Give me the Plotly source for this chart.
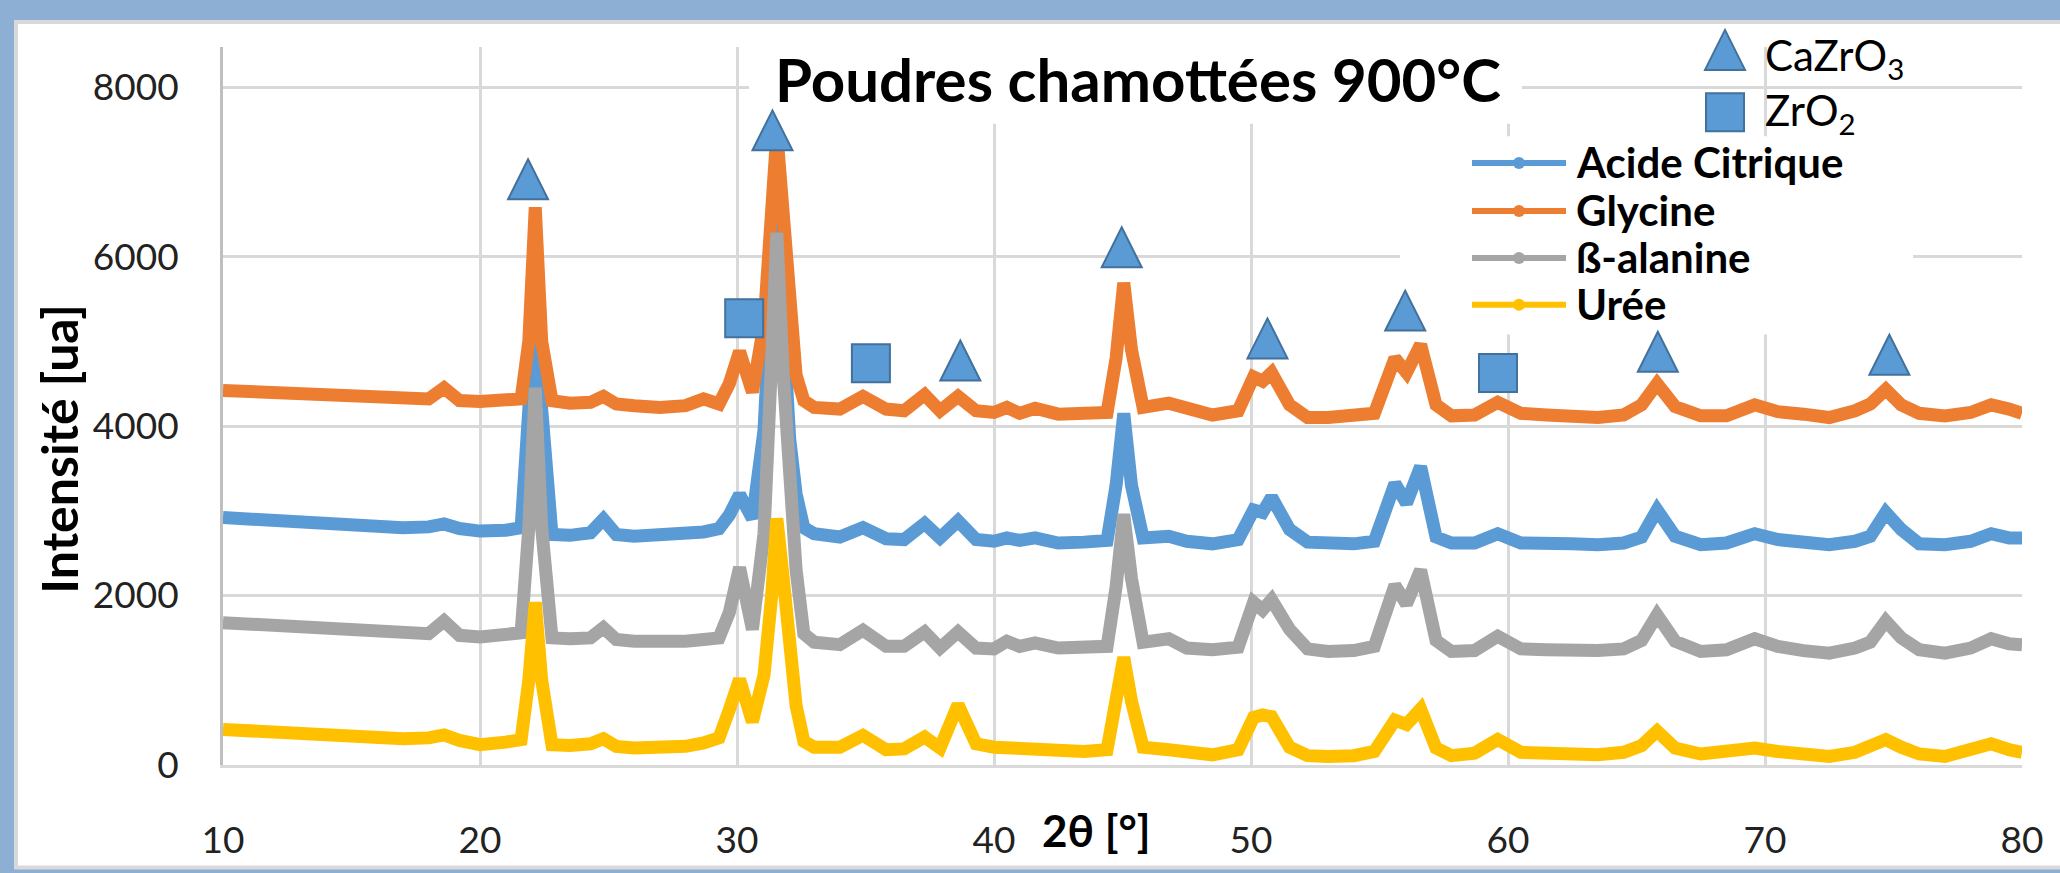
import plotly.graph_objects as go

# 2-theta grid (deg) and intensities
two_theta = [10, 11, 12, 13, 14, 15, 16, 17, 18, 18.6, 19.2, 20, 21, 21.6, 21.9, 22.15, 22.4, 22.8,
             23.5, 24.3, 24.8, 25.3, 26, 27, 28, 28.7, 29.3, 29.7, 30.1, 30.6, 31.05, 31.35, 31.55,
             31.8, 32.05, 32.3, 32.6, 33, 34, 34.9, 35.8, 36.5, 37.3, 37.9, 38.6, 39.3, 40, 40.5,
             41, 41.6, 42.5, 43.5, 44.4, 44.75, 45.05, 45.35, 45.8, 46.8, 47.5, 48.5, 49.5, 50.1,
             50.45, 50.8, 51.5, 52.2, 53, 54, 54.8, 55.6, 56.05, 56.6, 57.2, 57.8, 58.7, 59.6, 60.5,
             61.5, 62.5, 63.5, 64.5, 65.2, 65.8, 66.5, 67.5, 68.5, 69.6, 70.5, 71.5, 72.5, 73.5,
             74.1, 74.7, 75.3, 76, 77, 78, 78.8, 79.5, 80]

acide_citrique = [2920, 2900, 2880, 2860, 2850, 2830, 2815, 2800, 2810, 2845, 2790, 2760, 2770, 2800,
                  4200, 5800, 4200, 2720, 2710, 2740, 2900, 2720, 2700, 2710, 2720, 2750, 2790, 2950,
                  3190, 2910, 3950, 5800, 6900, 5200, 3850, 3200, 2800, 2730, 2690, 2800, 2670, 2660,
                  2850, 2680, 2880, 2660, 2640, 2680, 2650, 2680, 2620, 2630, 2650, 3300, 4150, 3300,
                  2680, 2700, 2640, 2610, 2660, 3010, 2980, 3160, 2780, 2630, 2610, 2610, 2640, 3320,
                  3090, 3520, 2690, 2620, 2620, 2730, 2620, 2600, 2610, 2600, 2620, 2690, 3010, 2700,
                  2600, 2620, 2730, 2660, 2630, 2600, 2640, 2700, 2980, 2780, 2610, 2600, 2640, 2730,
                  2680, 2680]

glycine = [4420, 4410, 4400, 4390, 4380, 4360, 4345, 4330, 4320, 4450, 4300, 4290, 4290, 4320, 5000,
           6580, 5000, 4300, 4270, 4280, 4350, 4260, 4240, 4220, 4240, 4320, 4260, 4500, 4880, 4400,
           5200, 6900, 7450, 6500, 5300, 4600, 4300, 4220, 4200, 4350, 4200, 4180, 4370, 4180, 4350,
           4180, 4160, 4220, 4150, 4210, 4140, 4150, 4160, 4800, 5690, 4900, 4220, 4270, 4200, 4130,
           4180, 4580, 4530, 4630, 4250, 4100, 4100, 4110, 4150, 4800, 4630, 4960, 4250, 4120, 4130,
           4280, 4150, 4130, 4120, 4100, 4130, 4250, 4500, 4230, 4120, 4120, 4250, 4170, 4140, 4100,
           4180, 4260, 4430, 4250, 4150, 4120, 4160, 4250, 4200, 4150]

b_alanine = [1680, 1660, 1640, 1620, 1600, 1580, 1560, 1545, 1550, 1700, 1530, 1510, 1520, 1560, 2800,
             4450, 2800, 1500, 1490, 1500, 1620, 1480, 1460, 1450, 1460, 1480, 1500, 1800, 2330, 1600,
             2730, 4800, 6280, 4600, 3300, 2300, 1550, 1450, 1420, 1590, 1400, 1400, 1570, 1380, 1570,
             1380, 1370, 1460, 1400, 1440, 1380, 1390, 1400, 2100, 2960, 2200, 1450, 1490, 1380, 1360,
             1390, 1920, 1830, 1950, 1600, 1370, 1340, 1350, 1400, 2120, 1900, 2300, 1470, 1340, 1350,
             1520, 1370, 1360, 1350, 1350, 1370, 1470, 1770, 1460, 1340, 1360, 1490, 1400, 1350, 1320,
             1380, 1450, 1700, 1500, 1360, 1320, 1380, 1490, 1430, 1420]

uree = [420, 400, 380, 360, 350, 340, 320, 310, 320, 355, 290, 240, 270, 300, 1000, 1920, 1000, 240,
        230, 250, 310, 220, 200, 200, 220, 260, 320, 650, 1010, 510, 1060, 2000, 2910, 2200, 1300, 700,
        280, 210, 210, 350, 180, 190, 330, 200, 710, 250, 210, 200, 190, 200, 170, 160, 180, 700, 1270,
        750, 210, 180, 140, 120, 180, 560, 590, 570, 210, 110, 100, 110, 160, 530, 480, 660, 200, 110,
        140, 300, 150, 140, 130, 120, 150, 230, 400, 200, 130, 150, 200, 160, 130, 100, 150, 220, 300,
        210, 130, 100, 170, 250, 180, 150]

series_names = ["Acide Citrique", "Glycine", "ß-alanine", "Urée"]
series_values = [acide_citrique, glycine, b_alanine, uree]
series_colors = ["#5B9BD5", "#ED7D31", "#A5A5A5", "#FFC000"]

# phase markers (peak identification)
cazro3_x = [21.87, 31.38, 38.69, 44.97, 50.64, 56.0, 65.83, 74.84]
cazro3_y = [6912, 7489, 4774, 6109, 5034, 5362, 4876, 4842]
zro2_x = [30.28, 35.21, 59.61]
zro2_y = [5271, 4740, 4627]

x_ticks = [10, 20, 30, 40, 50, 60, 70, 80]
y_ticks = [0, 2000, 4000, 6000, 8000]

W, H = 2060, 873
L, R, T, B = 223, 38, 47, 77
PW, PH = W - L - R, H - T - B
X0, X1 = 10, 80
YMAX = PH / 0.0884
FONT = "Lato, 'Noto Sans', sans-serif"
MARK_FILL = "#5B9BD5"
MARK_LINE = "#41719C"
GRID = "#D9D9D9"


def fx(px):
    return (px - L) / PW


def fy(py):
    return (H - B - py) / PH


def dx(px):
    return X0 + fx(px) * (X1 - X0)


def dy(py):
    return fy(py) * YMAX


fig = go.Figure()

for name, vals, col in zip(series_names, series_values, series_colors):
    fig.add_trace(go.Scatter(
        x=two_theta, y=vals, mode="lines", name=name,
        line=dict(color=col, width=13),
        showlegend=False,
    ))

shapes = []
# window frame / white panel
shapes.append(dict(type="rect", xref="paper", yref="paper", layer="below",
                   x0=fx(16), x1=fx(W + 30), y0=fy(H + 30), y1=fy(21),
                   fillcolor="white", line=dict(color=GRID, width=4)))
# white boxes behind title and legend (hide gridlines)
for (a, b, c, d) in [(749, 1522, 30, 127), (1400, 1913, 140, 347)]:
    shapes.append(dict(type="rect", xref="x", yref="y", layer="between",
                       x0=dx(a), x1=dx(b), y0=dy(d), y1=dy(c),
                       fillcolor="white", line=dict(width=0)))

tri = "M-20,-20 L20,-20 L0,20 Z"
sq = "M-19,-19 L19,-19 L19,19 L-19,19 Z"
for x, y in zip(cazro3_x, cazro3_y):
    shapes.append(dict(type="path", xref="x", yref="y", xsizemode="pixel", ysizemode="pixel",
                       xanchor=x, yanchor=y, path=tri, layer="above",
                       fillcolor=MARK_FILL, line=dict(color=MARK_LINE, width=2)))
for x, y in zip(zro2_x, zro2_y):
    shapes.append(dict(type="path", xref="x", yref="y", xsizemode="pixel", ysizemode="pixel",
                       xanchor=x, yanchor=y, path=sq, layer="above",
                       fillcolor=MARK_FILL, line=dict(color=MARK_LINE, width=2)))

# phase legend symbols
shapes.append(dict(type="path", xref="paper", yref="paper", xsizemode="pixel", ysizemode="pixel",
                   xanchor=fx(1725), yanchor=fy(50), path=tri, layer="above",
                   fillcolor=MARK_FILL, line=dict(color=MARK_LINE, width=2)))
shapes.append(dict(type="path", xref="paper", yref="paper", xsizemode="pixel", ysizemode="pixel",
                   xanchor=fx(1725), yanchor=fy(115), path=sq, layer="above",
                   fillcolor=MARK_FILL, line=dict(color=MARK_LINE, width=2)))

annotations = [
    dict(text="<b>Poudres chamottées 900°C</b>", x=fx(1138), y=fy(80), xref="paper", yref="paper",
         xanchor="center", yanchor="middle", showarrow=False, font=dict(family=FONT, size=60, color="black")),
    dict(text="<b>2θ [°]</b>", x=fx(1096), y=fy(864), xref="paper", yref="paper",
         xanchor="center", yanchor="middle", showarrow=False, font=dict(family=FONT, size=44, color="black")),
    dict(text="<b>Intensité [ua]</b>", x=fx(59), y=fy(466), xref="paper", yref="paper", textangle=-90,
         xanchor="center", yanchor="middle", showarrow=False, font=dict(family=FONT, size=50, color="black")),
    dict(text="CaZrO<sub>3</sub>", x=fx(1763), y=fy(58), xref="paper", yref="paper",
         xanchor="left", yanchor="middle", showarrow=False, font=dict(family=FONT, size=42, color="black")),
    dict(text="ZrO<sub>2</sub>", x=fx(1763), y=fy(116), xref="paper", yref="paper",
         xanchor="left", yanchor="middle", showarrow=False, font=dict(family=FONT, size=42, color="black")),
]

# series legend (long line with centre dot)
rows = [168, 218, 267, 316]
for name, col, ry in zip(series_names, series_colors, rows):
    shapes.append(dict(type="line", xref="paper", yref="paper", layer="above",
                       x0=fx(1472), x1=fx(1566), y0=fy(ry), y1=fy(ry),
                       line=dict(color=col, width=6)))
    shapes.append(dict(type="circle", xref="paper", yref="paper", xsizemode="pixel", ysizemode="pixel",
                       xanchor=fx(1519), yanchor=fy(ry), x0=-6, x1=6, y0=-6, y1=6, layer="above",
                       fillcolor=col, line=dict(width=0)))
    annotations.append(dict(text="<b>%s</b>" % name, x=fx(1574), y=fy(ry - 1), xref="paper", yref="paper",
                            xanchor="left", yanchor="middle", showarrow=False,
                            font=dict(family=FONT, size=42, color="black")))

fig.update_layout(
    width=W, height=H,
    margin=dict(l=L, r=R, t=T, b=B, pad=0),
    paper_bgcolor="#8EAFD4",
    plot_bgcolor="white",
    showlegend=False,
    shapes=shapes,
    annotations=annotations,
    xaxis=dict(
        range=[X0, X1], tickvals=x_ticks, showgrid=True, gridcolor=GRID, gridwidth=3,
        showline=True, linecolor=GRID, linewidth=3, zeroline=False,
        ticks="outside", ticklen=41, tickcolor="rgba(0,0,0,0)",
        tickfont=dict(family=FONT, size=37, color="#222"),
    ),
    yaxis=dict(
        range=[0, YMAX], tickvals=y_ticks, showgrid=True, gridcolor=GRID, gridwidth=3,
        showline=True, linecolor="#BFBFBF", linewidth=3, zeroline=False,
        ticks="outside", ticklen=34, tickcolor="rgba(0,0,0,0)",
        tickfont=dict(family=FONT, size=37, color="#222"),
    ),
)

fig.write_html("out.html", config={"displayModeBar": False},
               post_script="document.body.style.margin='0';")
